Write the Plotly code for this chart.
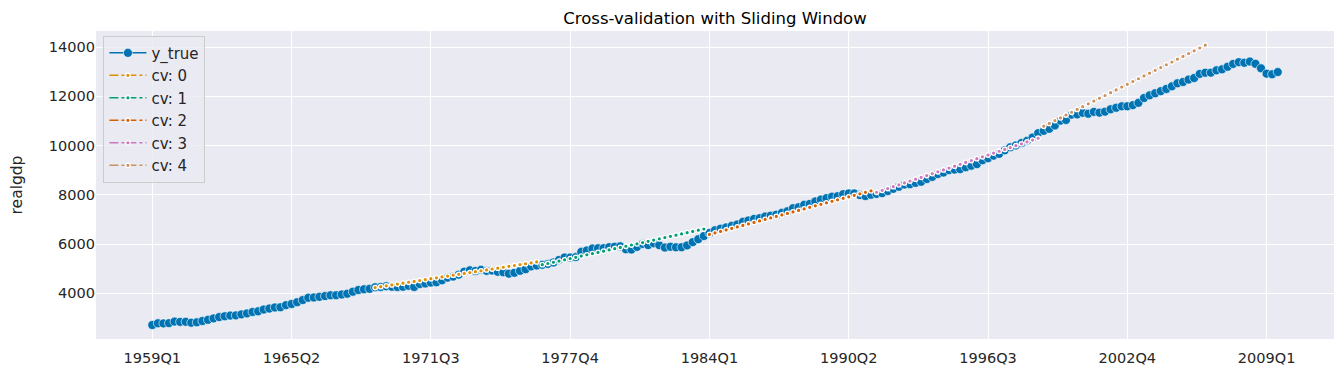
import pandas as pd
import plotly.graph_objects as go

# ---- data -----------------------------------------------------------------
quarters = [str(p) for p in pd.period_range("1959Q1", "2009Q3", freq="Q")]

realgdp = [
    2710.349, 2778.801, 2775.488, 2785.204, 2847.699, 2834.390, 2839.022, 2802.616,
    2819.264, 2872.005, 2918.419, 2977.830, 3031.241, 3064.709, 3093.047, 3100.563,
    3141.087, 3180.447, 3240.332, 3264.967, 3338.246, 3376.587, 3422.469, 3431.957,
    3516.251, 3563.960, 3636.285, 3724.014, 3815.423, 3828.124, 3853.301, 3884.520,
    3918.740, 3919.556, 3950.826, 3981.970, 4063.013, 4131.998, 4160.267, 4178.293,
    4244.100, 4256.460, 4283.378, 4263.261, 4256.573, 4264.289, 4302.259, 4256.637,
    4374.016, 4398.829, 4433.943, 4446.264, 4525.769, 4633.101, 4677.503, 4754.546,
    4876.166, 4932.571, 4906.252, 4953.050, 4909.617, 4922.188, 4873.520, 4854.340,
    4795.295, 4831.942, 4913.328, 4977.511, 5090.663, 5128.947, 5154.072, 5191.499,
    5251.762, 5356.131, 5451.921, 5450.793, 5469.405, 5684.569, 5740.300, 5816.222,
    5825.949, 5831.418, 5873.335, 5889.495, 5908.467, 5787.373, 5776.617, 5883.026,
    6005.717, 5957.795, 6030.184, 5955.062, 5857.333, 5889.074, 5866.370, 5871.001,
    5944.020, 6077.619, 6197.468, 6325.574, 6448.264, 6559.594, 6623.343, 6677.264,
    6740.275, 6797.344, 6903.523, 6955.918, 7022.757, 7050.969, 7118.950, 7153.359,
    7193.019, 7269.510, 7332.558, 7458.022, 7496.600, 7592.881, 7632.082, 7733.991,
    7806.603, 7865.016, 7927.393, 7944.697, 8027.693, 8059.598, 8059.476, 7988.864,
    7950.164, 8003.822, 8037.538, 8069.046, 8157.616, 8244.294, 8329.361, 8417.016,
    8432.485, 8486.435, 8531.108, 8643.769, 8727.919, 8847.303, 8904.289, 9003.180,
    9025.267, 9044.668, 9120.684, 9184.275, 9247.188, 9407.052, 9488.879, 9592.458,
    9666.235, 9809.551, 9932.672, 10008.874, 10103.425, 10194.277, 10328.787, 10507.575,
    10601.179, 10684.049, 10819.914, 11014.254, 11043.044, 11258.454, 11267.867, 11334.544,
    11297.171, 11371.251, 11340.075, 11380.128, 11477.868, 11538.770, 11596.430, 11598.824,
    11645.819, 11738.706, 11935.461, 12042.817, 12127.623, 12213.818, 12303.533, 12410.282,
    12534.113, 12587.535, 12683.153, 12748.699, 12915.938, 12962.462, 12965.916, 13060.679,
    13099.901, 13203.977, 13321.109, 13391.249, 13366.865, 13415.266, 13324.600, 13141.920,
    12925.410, 12901.504, 12990.341,
]

cv_start = [40, 70, 100, 130, 160]   # first quarter index of each forecast window

cv0 = [4232, 4268, 4304, 4340, 4375, 4411, 4447, 4483, 4519, 4555,
       4591, 4626, 4662, 4698, 4734, 4770, 4806, 4842, 4877, 4913,
       4949, 4985, 5021, 5057, 5093, 5128, 5164, 5200, 5236, 5272]
cv1 = [5160, 5210, 5260, 5310, 5360, 5410, 5460, 5510, 5561, 5611,
       5661, 5711, 5761, 5811, 5861, 5911, 5961, 6011, 6061, 6111,
       6161, 6211, 6262, 6312, 6362, 6412, 6462, 6512, 6562, 6612]
cv2 = [6390, 6451, 6512, 6573, 6635, 6696, 6757, 6818, 6879, 6940,
       7001, 7063, 7124, 7185, 7246, 7307, 7368, 7429, 7491, 7552,
       7613, 7674, 7735, 7796, 7857, 7919, 7980, 8041, 8102, 8163]
cv3 = [8106, 8182, 8257, 8333, 8409, 8484, 8560, 8636, 8712, 8787,
       8863, 8939, 9014, 9090, 9166, 9241, 9317, 9393, 9469, 9544,
       9620, 9696, 9771, 9847, 9923, 9999, 10074, 10150, 10226, 10301]
cv4 = [10790, 10903, 11017, 11130, 11244, 11357, 11471, 11584, 11698, 11811,
       11925, 12038, 12152, 12265, 12379, 12492, 12606, 12719, 12833, 12946,
       13060, 13173, 13287, 13400, 13514, 13627, 13741, 13854, 13968, 14081]
cv_series = [cv0, cv1, cv2, cv3, cv4]
cv_names = ["cv: 0", "cv: 1", "cv: 2", "cv: 3", "cv: 4"]

tick_labels = ["1959Q1", "1965Q2", "1971Q3", "1977Q4", "1984Q1",
               "1990Q2", "1996Q3", "2002Q4", "2009Q1"]
y_ticks = [4000, 6000, 8000, 10000, 12000, 14000]

# ---- style ----------------------------------------------------------------
BLUE = "#0173b2"
CV_COLORS = ["#de8f05", "#029e73", "#d55e00", "#cc78bc", "#ca9161"]
FONT = "DejaVu Sans"
TXT = "#262626"

# the page body has an 8px default margin, so the figure is sized to fit
W, H = 1336, 370

fig = go.Figure()
fig.add_trace(go.Scatter(
    x=quarters, y=realgdp, name="y_true", mode="lines+markers",
    line=dict(color=BLUE, width=1.5),
    marker=dict(color=BLUE, size=9, line=dict(color="white", width=0.6)),
))
for s, vals, name, col in zip(cv_start, cv_series, cv_names, CV_COLORS):
    fig.add_trace(go.Scatter(
        x=quarters[s:s + len(vals)], y=vals, name=name, mode="lines+markers",
        line=dict(color=col, width=1.5, dash="dashdot"),
        marker=dict(color=col, size=4.5, line=dict(color="white", width=1.3)),
    ))

fig.update_layout(
    width=W, height=H,
    margin=dict(l=88, r=10, t=23, b=39, autoexpand=False),
    paper_bgcolor="white", plot_bgcolor="#eaeaf2",
    font=dict(family=FONT, size=14, color=TXT),
    title=dict(text="Cross-validation with Sliding Window", xref="paper", x=0.5,
               xanchor="center", y=1 - 10 / H, yanchor="middle",
               font=dict(size=16.5, color="black")),
    showlegend=True,
    legend=dict(x=0.006, y=0.985, xanchor="left", yanchor="top",
                bgcolor="rgba(234,234,242,0.8)", bordercolor="#cccccc", borderwidth=1,
                font=dict(size=15, color=TXT), tracegroupgap=0, itemwidth=37),
)
fig.update_xaxes(
    type="category", range=[-10.1, 212.1], automargin=False,
    tickmode="array", tickvals=tick_labels, ticktext=tick_labels,
    showgrid=True, gridcolor="white", gridwidth=1.2, zeroline=False,
    showline=False, ticks="", ticklen=0, ticklabelstandoff=8,
    tickfont=dict(size=14.5, color=TXT),
)
fig.update_yaxes(
    range=[2141, 14659], tickvals=y_ticks, tickformat="d", automargin=False,
    showgrid=True, gridcolor="white", gridwidth=1.2, zeroline=False,
    showline=False, ticks="", tickfont=dict(size=14.5, color=TXT),
    title=dict(text="realgdp", font=dict(size=15.5, color=TXT), standoff=22),
)

fig.write_html("out.html")
